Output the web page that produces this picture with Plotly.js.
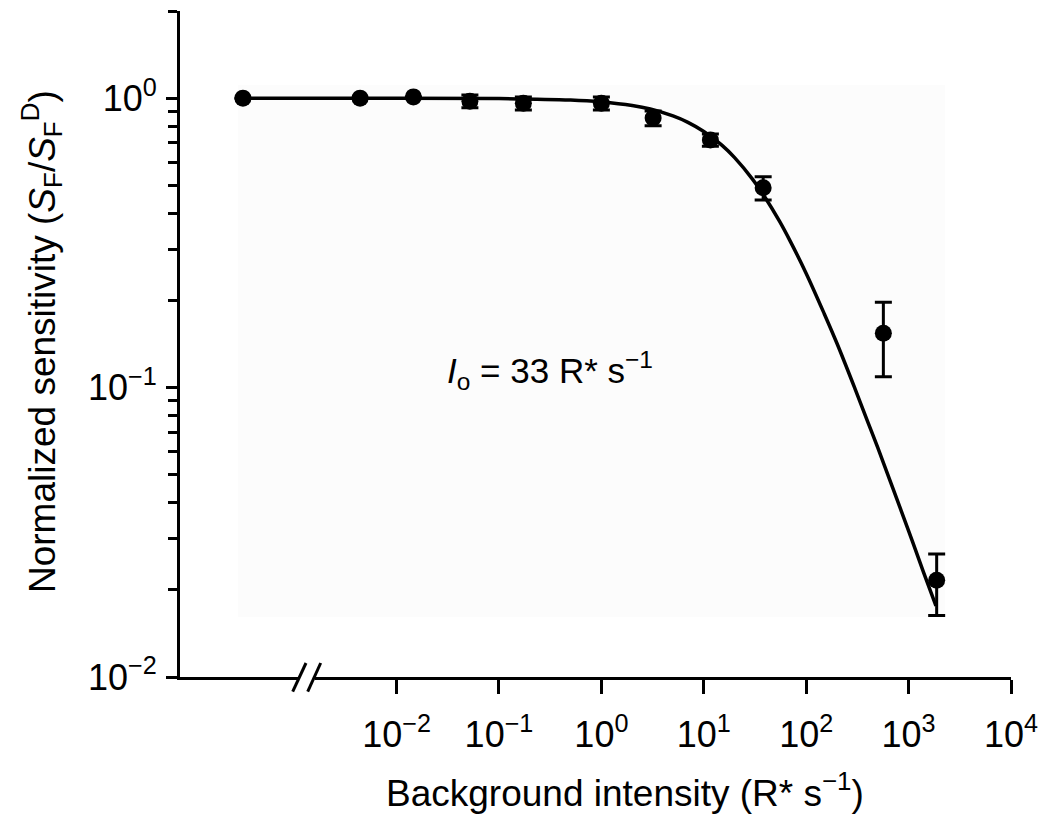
<!DOCTYPE html>
<html><head><meta charset="utf-8">
<script src="https://cdn.plot.ly/plotly-3.0.1.min.js"></script>
<style>html,body{margin:0;padding:0;background:#fff}#chart{width:1050px;height:830px}</style>
</head><body><div id="chart"></div>
<script>
// Dark-adapted point is drawn left of the axis break
const darkX = 0.000316;
const intensity   = [darkX, 0.0044, 0.0146, 0.052, 0.173, 1.0, 3.2, 11.6, 38, 567, 1880];
const sensitivity = [1.0, 1.0, 1.01, 0.976, 0.96, 0.96, 0.853, 0.717, 0.49, 0.154, 0.0216];
const errPlus     = [0, 0, 0, 0.05, 0.05, 0.05, 0.05, 0.035, 0.045, 0.043, 0.005];
const errMinus    = [0, 0, 0, 0.05, 0.05, 0.05, 0.05, 0.035, 0.045, 0.045, 0.0053];
const fitX = [darkX, 0.01, 0.1, 0.5, 1, 2, 3, 5, 7, 10, 15, 20, 30, 40, 55, 70, 100, 150, 200, 300, 400, 500, 700, 1000, 1400, 1850];
const fitY = [1, 1, 0.997, 0.985, 0.97, 0.943, 0.917, 0.868, 0.825, 0.767, 0.688, 0.623, 0.524, 0.452, 0.375, 0.32, 0.248, 0.18, 0.142, 0.099, 0.076, 0.062, 0.045, 0.032, 0.023, 0.0176];
const xTickVals = [0.01, 0.1, 1, 10, 100, 1000, 10000];
const xTickText = ['10<sup>−2</sup>','10<sup>−1</sup>','10<sup>0</sup>','10<sup>1</sup>','10<sup>2</sup>','10<sup>3</sup>','10<sup>4</sup>'];
const yTickVals = [0.01, 0.1, 1];
const yTickText = ['10<sup>−2</sup>','10<sup>−1</sup>','10<sup>0</sup>'];
const yMinorVals = [0.02,0.03,0.04,0.05,0.06,0.07,0.08,0.09,0.2,0.3,0.4,0.5,0.6,0.7,0.8,0.9,2];
const xTitle = 'Background intensity (R* s<sup>−1</sup>)';
const yTitle = 'Normalized sensitivity (<i>S</i><sub>F</sub>/<i>S</i><sub>F</sub><sup>D</sup>)';
const noteText = '<i>I</i><sub>o</sub> = 33 R* s<sup>−1</sup>';

// plot area geometry in pixels
const L = 180, R = 1011, T = 11, B = 677, W = 1050, H = 830;
const px = x => (x - L) / (R - L);
const py = y => (B - y) / (B - T);
const FONT = 'Liberation Sans, Arial, Helvetica, sans-serif';

const fit = {
  x: fitX, y: fitY, type: 'scatter', mode: 'lines',
  line: {color: '#000', width: 3.5, shape: 'spline', smoothing: 1},
  hoverinfo: 'skip', showlegend: false
};
const pts = {
  x: intensity, y: sensitivity, type: 'scatter', mode: 'markers',
  marker: {color: '#000', size: 17, symbol: 'circle'},
  error_y: {type: 'data', symmetric: false, array: errPlus, arrayminus: errMinus,
            color: '#000', thickness: 3, width: 8.5},
  showlegend: false
};

const layout = {
  width: W, height: H,
  margin: {l: L, r: W - R, t: T, b: H - B},
  paper_bgcolor: '#fff', plot_bgcolor: '#fff',
  font: {family: FONT, color: '#000', size: 36},
  showlegend: false,
  xaxis: {
    type: 'log', range: [-4.115, 4], showgrid: false, zeroline: false,
    showline: true, linecolor: '#000', linewidth: 3,
    ticks: 'outside', ticklen: 14, tickwidth: 3, tickcolor: '#000',
    tickvals: xTickVals, ticktext: xTickText, ticklabelstandoff: 10,
    tickfont: {family: FONT, size: 36, color: '#000'}
  },
  yaxis: {
    type: 'log', range: [-2, Math.log10(2)], showgrid: false, zeroline: false,
    showline: true, linecolor: '#000', linewidth: 3,
    ticks: 'outside', ticklen: 11, tickwidth: 3, tickcolor: '#000',
    tickvals: yTickVals, ticktext: yTickText, ticklabelstandoff: 2,
    tickfont: {family: FONT, size: 36, color: '#000'},
    minor: {tickvals: yMinorVals, ticks: 'outside', ticklen: 9, tickwidth: 3, tickcolor: '#000', showgrid: false}
  },
  shapes: [
    {type: 'rect', xref: 'paper', yref: 'paper', x0: px(238), x1: px(945), y0: py(617), y1: py(85),
     fillcolor: '#fcfcfc', line: {width: 0}, layer: 'below'},
    {type: 'line', xref: 'paper', yref: 'paper', x0: px(298), x1: px(315), y0: 0, y1: 0,
     line: {color: '#fff', width: 6}, layer: 'above'},
    {type: 'line', xref: 'paper', yref: 'paper', x0: px(292.7), x1: px(306), y0: py(691.7), y1: py(663),
     line: {color: '#000', width: 3}, layer: 'above'},
    {type: 'line', xref: 'paper', yref: 'paper', x0: px(307.7), x1: px(320.7), y0: py(691.7), y1: py(663),
     line: {color: '#000', width: 3}, layer: 'above'}
  ],
  annotations: [
    {text: xTitle, xref: 'paper', yref: 'paper', x: px(625), y: py(790), xanchor: 'center', yanchor: 'middle',
     showarrow: false, font: {family: FONT, size: 37, color: '#000'}},
    {text: yTitle, xref: 'paper', yref: 'paper', x: px(42), y: py(342), xanchor: 'center', yanchor: 'middle',
     textangle: -90, showarrow: false, font: {family: FONT, size: 37, color: '#000'}},
    {text: noteText, xref: 'paper', yref: 'paper', x: px(550), y: py(370), xanchor: 'center', yanchor: 'middle',
     showarrow: false, font: {family: FONT, size: 35, color: '#000'}}
  ]
};

Plotly.newPlot('chart', [fit, pts], layout, {displayModeBar: false, staticPlot: true});
</script>
</body></html>
